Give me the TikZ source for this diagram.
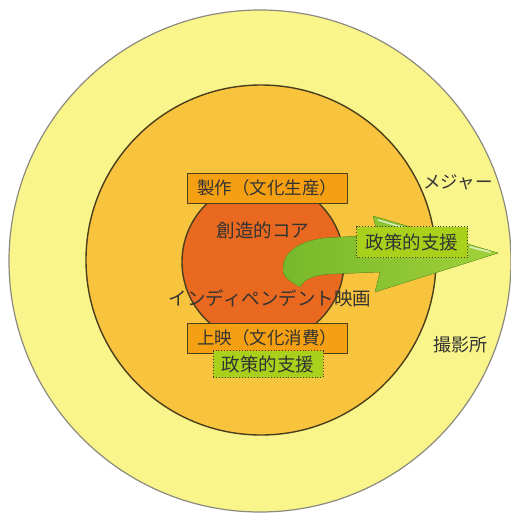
\documentclass[tikz,border=0pt]{standalone}
\usepackage{fontspec}
\setmainfont{Noto Sans CJK JP}
\usetikzlibrary{calc}
\definecolor{outerfill}{HTML}{F9F58A}
\definecolor{outerline}{HTML}{8C8A80}
\definecolor{midfill}{HTML}{F8C33D}
\definecolor{darkline}{HTML}{4A3E1C}
\definecolor{corefill}{HTML}{E8691F}
\definecolor{boxfill}{HTML}{F4A012}
\definecolor{greenbox}{HTML}{A9D11C}
\definecolor{txt}{HTML}{333333}
\definecolor{arrowA}{HTML}{76B82A}
\definecolor{arrowB}{HTML}{A2D13A}
\tikzset{
  lbl/.style={font=\fontsize{18.5}{18.5}\selectfont, text=txt, inner sep=0pt},
  orangebox/.style={draw=darkline, line width=1pt, fill=boxfill, minimum width=160pt, minimum height=30pt, inner sep=0pt, font=\fontsize{17.5}{17.5}\selectfont, text=txt},
  policybox/.style={draw=darkline, line width=0.9pt, dotted, fill=greenbox, inner sep=0pt, font=\fontsize{18.5}{18.5}\selectfont, text=txt}
}
\begin{document}
\begin{tikzpicture}[x=1pt,y=-1pt]
\useasboundingbox (0,0) rectangle (511,514);
% circles
\node[circle, draw=outerline, line width=1.2pt, fill=outerfill, minimum size=502pt, inner sep=0pt] (outer) at (260,261) {};
\node[circle, draw=darkline, line width=1.4pt, fill=midfill, minimum size=350pt, inner sep=0pt] (mid) at (261,260) {};
\node[circle, draw=darkline, line width=1.4pt, fill=corefill, minimum size=162pt, inner sep=0pt] (core) at (263,262) {};
% arrow
\fill[left color=arrowA, right color=arrowB, draw=arrowA!90!black, line width=0.4pt]
  (300,287) .. controls (292,282) and (282,278) .. (283,268)
  .. controls (284,251) and (300,241) .. (325,238)
  -- (378,235) -- (373,216) -- (498,253) -- (375,292) -- (380,272)
  -- (330,274) .. controls (313,275) and (303,280) .. (300,287) -- cycle;
\draw[white, opacity=0.7, line width=1.5pt, line cap=round] (378,220) -- (405,228);
\draw[white, opacity=0.7, line width=1.5pt, line cap=round] (470,247) -- (490,252);
% boxes
\node[orangebox] (prod) at (267,188) {製作（文化生産）};
\node[orangebox] (cons) at (267,338) {上映（文化消費）};
\node[policybox, minimum width=110pt, minimum height=27pt] (pol1) at (268,364) {政策的支援};
\node[policybox, minimum width=111pt, minimum height=31pt] (pol2) at (412,242) {政策的支援};
% labels
\node[lbl] (creative) at (263,230) {創造的コア};
\node[lbl] (indie) at (270,298) {インディペンデント映画};
\node[lbl, font=\fontsize{17.5}{17.5}\selectfont] (major) at (458,182) {メジャー};
\node[lbl, font=\fontsize{18}{18}\selectfont] (studio) at (460,345) {撮影所};
\end{tikzpicture}
\end{document}
